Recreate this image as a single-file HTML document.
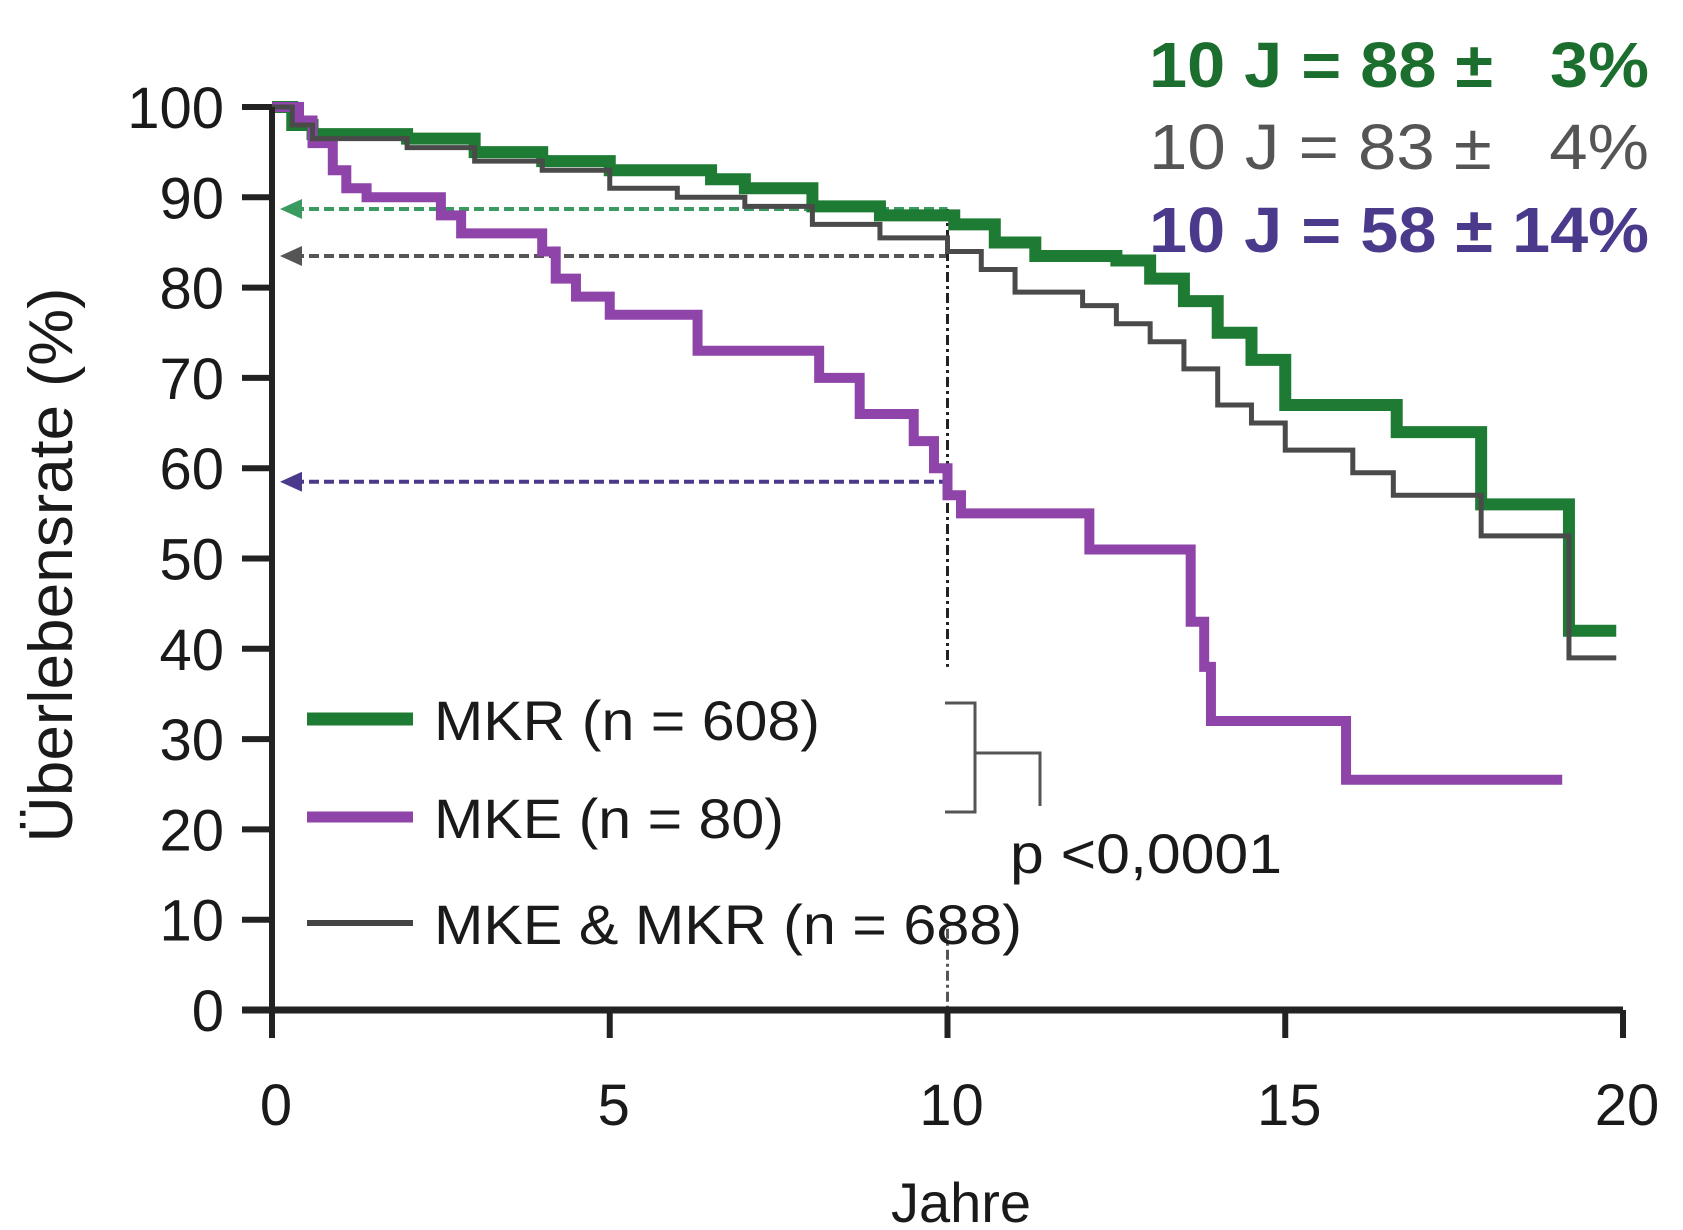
<!DOCTYPE html>
<html><head><meta charset="utf-8">
<style>
html,body{margin:0;padding:0;background:#fff;}
svg{display:block;font-family:"Liberation Sans",sans-serif;}
</style></head>
<body>
<svg id="chart" width="1683" height="1230" viewBox="0 0 1683 1230" xmlns="http://www.w3.org/2000/svg">
  <g id="grid"></g>
  <g id="refs"></g>
  <g id="series"></g>
  <g id="axes"></g>
  <text transform="translate(72,565) rotate(-90)" text-anchor="middle" font-size="62" fill="#1a1a1a" textLength="555" lengthAdjust="spacingAndGlyphs">Überlebensrate (%)</text>
  <text x="961" y="1222" text-anchor="middle" font-size="56" fill="#1a1a1a">Jahre</text>
  <g>
    <line x1="307" y1="719" x2="413" y2="719" stroke="#1e7b34" stroke-width="13"/>
    <text x="434" y="740" font-size="56" fill="#1a1a1a" textLength="386" lengthAdjust="spacingAndGlyphs">MKR (n = 608)</text>
    <line x1="307" y1="817" x2="413" y2="817" stroke="#8e44a8" stroke-width="11"/>
    <text x="434" y="838" font-size="56" fill="#1a1a1a" textLength="350" lengthAdjust="spacingAndGlyphs">MKE (n = 80)</text>
    <line x1="307" y1="923" x2="413" y2="923" stroke="#444" stroke-width="6"/>
    <text x="434" y="944" font-size="56" fill="#1a1a1a" textLength="588" lengthAdjust="spacingAndGlyphs">MKE &amp; MKR (n = 688)</text>
  </g>
  <g stroke="#555" stroke-width="3" fill="none">
    <polyline points="945,703 975,703 975,812 945,812"/>
    <polyline points="975,753 1040,753 1040,806"/>
  </g>
  <text x="1010" y="873" font-size="56" fill="#1a1a1a" textLength="272" lengthAdjust="spacingAndGlyphs">p &lt;0,0001</text>
  <g font-size="64">
    <text x="1149" y="87" font-weight="bold" fill="#1b6e2e" textLength="500" lengthAdjust="spacingAndGlyphs" xml:space="preserve">10 J = 88 ±   3%</text>
    <text x="1149" y="169" fill="#555" textLength="500" lengthAdjust="spacingAndGlyphs" xml:space="preserve">10 J = 83 ±   4%</text>
    <text x="1149" y="252" font-weight="bold" fill="#4b3a8c" textLength="500" lengthAdjust="spacingAndGlyphs">10 J = 58 ± 14%</text>
  </g>
</svg>
<script>
const xTicks = [0, 5, 10, 15, 20];
const yTicks = [0, 10, 20, 30, 40, 50, 60, 70, 80, 90, 100];
const mkrTimes = [0, 0.3, 0.6, 2, 3, 4, 5, 6.5, 7, 8, 9, 10.1, 10.7, 11.3, 12.5, 13, 13.5, 14, 14.5, 15, 16.65, 17.9, 19.2, 19.9];
const mkrSurv  = [100, 98, 97, 96.5, 95, 94, 93, 92, 91, 89, 88, 87, 85, 83.5, 83, 81, 78.5, 75, 72, 67, 64, 56, 42, 42];
const allTimes = [0, 0.3, 0.6, 2, 3, 4, 5, 6, 7, 8, 9, 10, 10.5, 11, 12, 12.5, 13, 13.5, 14, 14.5, 15, 16, 16.6, 17.9, 19.2, 19.9];
const allSurv  = [100, 98, 96.5, 95.5, 94, 93, 91, 90, 89, 87, 85.5, 84, 82, 79.5, 78, 76, 74, 71, 67, 65, 62, 59.5, 57, 52.5, 39, 39];
const mkeTimes = [0, 0.4, 0.6, 0.9, 1.1, 1.4, 2.5, 2.8, 4, 4.2, 4.5, 5, 6.3, 8.1, 8.7, 9.5, 9.8, 10.0, 10.2, 12.1, 13.6, 13.8, 13.9, 15.9, 19.1];
const mkeSurv  = [100, 98.5, 96, 93, 91, 90, 88, 86, 84, 81, 79, 77, 73, 70, 66, 63, 60, 57, 55, 51, 43, 38, 32, 25.5, 25.5];
const refSurv = [88.7, 83.5, 58.5];
const refYear = [10];

const NS = "http://www.w3.org/2000/svg";
const X0 = 272, X1 = 1623, Y0 = 1010, Y1 = 107;
const xs = v => X0 + (X1 - X0) * v / 20;
const ys = v => Y0 - (Y0 - Y1) * v / 100;
function mk(tag, attrs, parent) {
  const e = document.createElementNS(NS, tag);
  for (const k in attrs) e.setAttribute(k, attrs[k]);
  parent.appendChild(e);
  return e;
}
const axes = document.getElementById('axes');
const series = document.getElementById('series');
const refs = document.getElementById('refs');

const refColors = ['#3a9a60', '#555', '#4b3a8c'];
const refNames = ['ref-line-mkr', 'ref-line-all', 'ref-line-mke'];
refSurv.forEach((v, i) => {
  const l = mk('line', {x1: xs(0) + 22, y1: ys(v), x2: xs(refYear[0]), y2: ys(v), stroke: refColors[i], 'stroke-width': 4, 'stroke-dasharray': '10 5'}, refs);
  
  
  const a = mk('polygon', {points: `${xs(0)+8},${ys(v)} ${xs(0)+30},${ys(v)-10} ${xs(0)+30},${ys(v)+10}`, fill: refColors[i]}, refs);
  
  
});
const vl = mk('line', {x1: xs(refYear[0]), y1: ys(refSurv[0]), x2: xs(refYear[0]), y2: ys(38), stroke: '#222', 'stroke-width': 3, 'stroke-dasharray': '10 4 3 4'}, refs);


const vl2 = mk('line', {x1: xs(refYear[0]), y1: ys(9), x2: xs(refYear[0]), y2: ys(0), stroke: '#555', 'stroke-width': 3, 'stroke-dasharray': '10 4 3 4'}, refs);



function stepPath(t, s) {
  let d = `M${xs(t[0])},${ys(s[0])}`;
  for (let i = 1; i < t.length; i++) {
    d += ` H${xs(t[i])} V${ys(s[i])}`;
  }
  return d;
}
const p1 = mk('path', {d: stepPath(mkrTimes, mkrSurv), fill: 'none', stroke: '#1e7b34', 'stroke-width': 12}, series);


const p2 = mk('path', {d: stepPath(mkeTimes, mkeSurv), fill: 'none', stroke: '#8e44a8', 'stroke-width': 10}, series);


const p3 = mk('path', {d: stepPath(allTimes, allSurv), fill: 'none', stroke: '#4a4a4a', 'stroke-width': 5}, series);



const ya = mk('line', {x1: X0, y1: Y1, x2: X0, y2: Y0 + 28, stroke: '#222', 'stroke-width': 6}, axes);


const xa = mk('line', {x1: X0 - 30, y1: Y0, x2: X1, y2: Y0, stroke: '#222', 'stroke-width': 7}, axes);


yTicks.forEach(v => {
  const t = mk('line', {x1: X0 - 30, y1: ys(v), x2: X0, y2: ys(v), stroke: '#222', 'stroke-width': 6}, axes);
  
  
  const tx = mk('text', {x: X0 - 48, y: ys(v) + 21, 'text-anchor': 'end', 'font-size': 58, fill: '#1a1a1a'}, axes);
  tx.textContent = v;
  
  
});
xTicks.forEach(v => {
  const t = mk('line', {x1: xs(v), y1: Y0, x2: xs(v), y2: Y0 + 28, stroke: '#222', 'stroke-width': 6}, axes);
  
  
  const tx = mk('text', {x: xs(v) + 4, y: Y0 + 115, 'text-anchor': 'middle', 'font-size': 58, fill: '#1a1a1a'}, axes);
  tx.textContent = v;
  
  
});
</script>
</body></html>
